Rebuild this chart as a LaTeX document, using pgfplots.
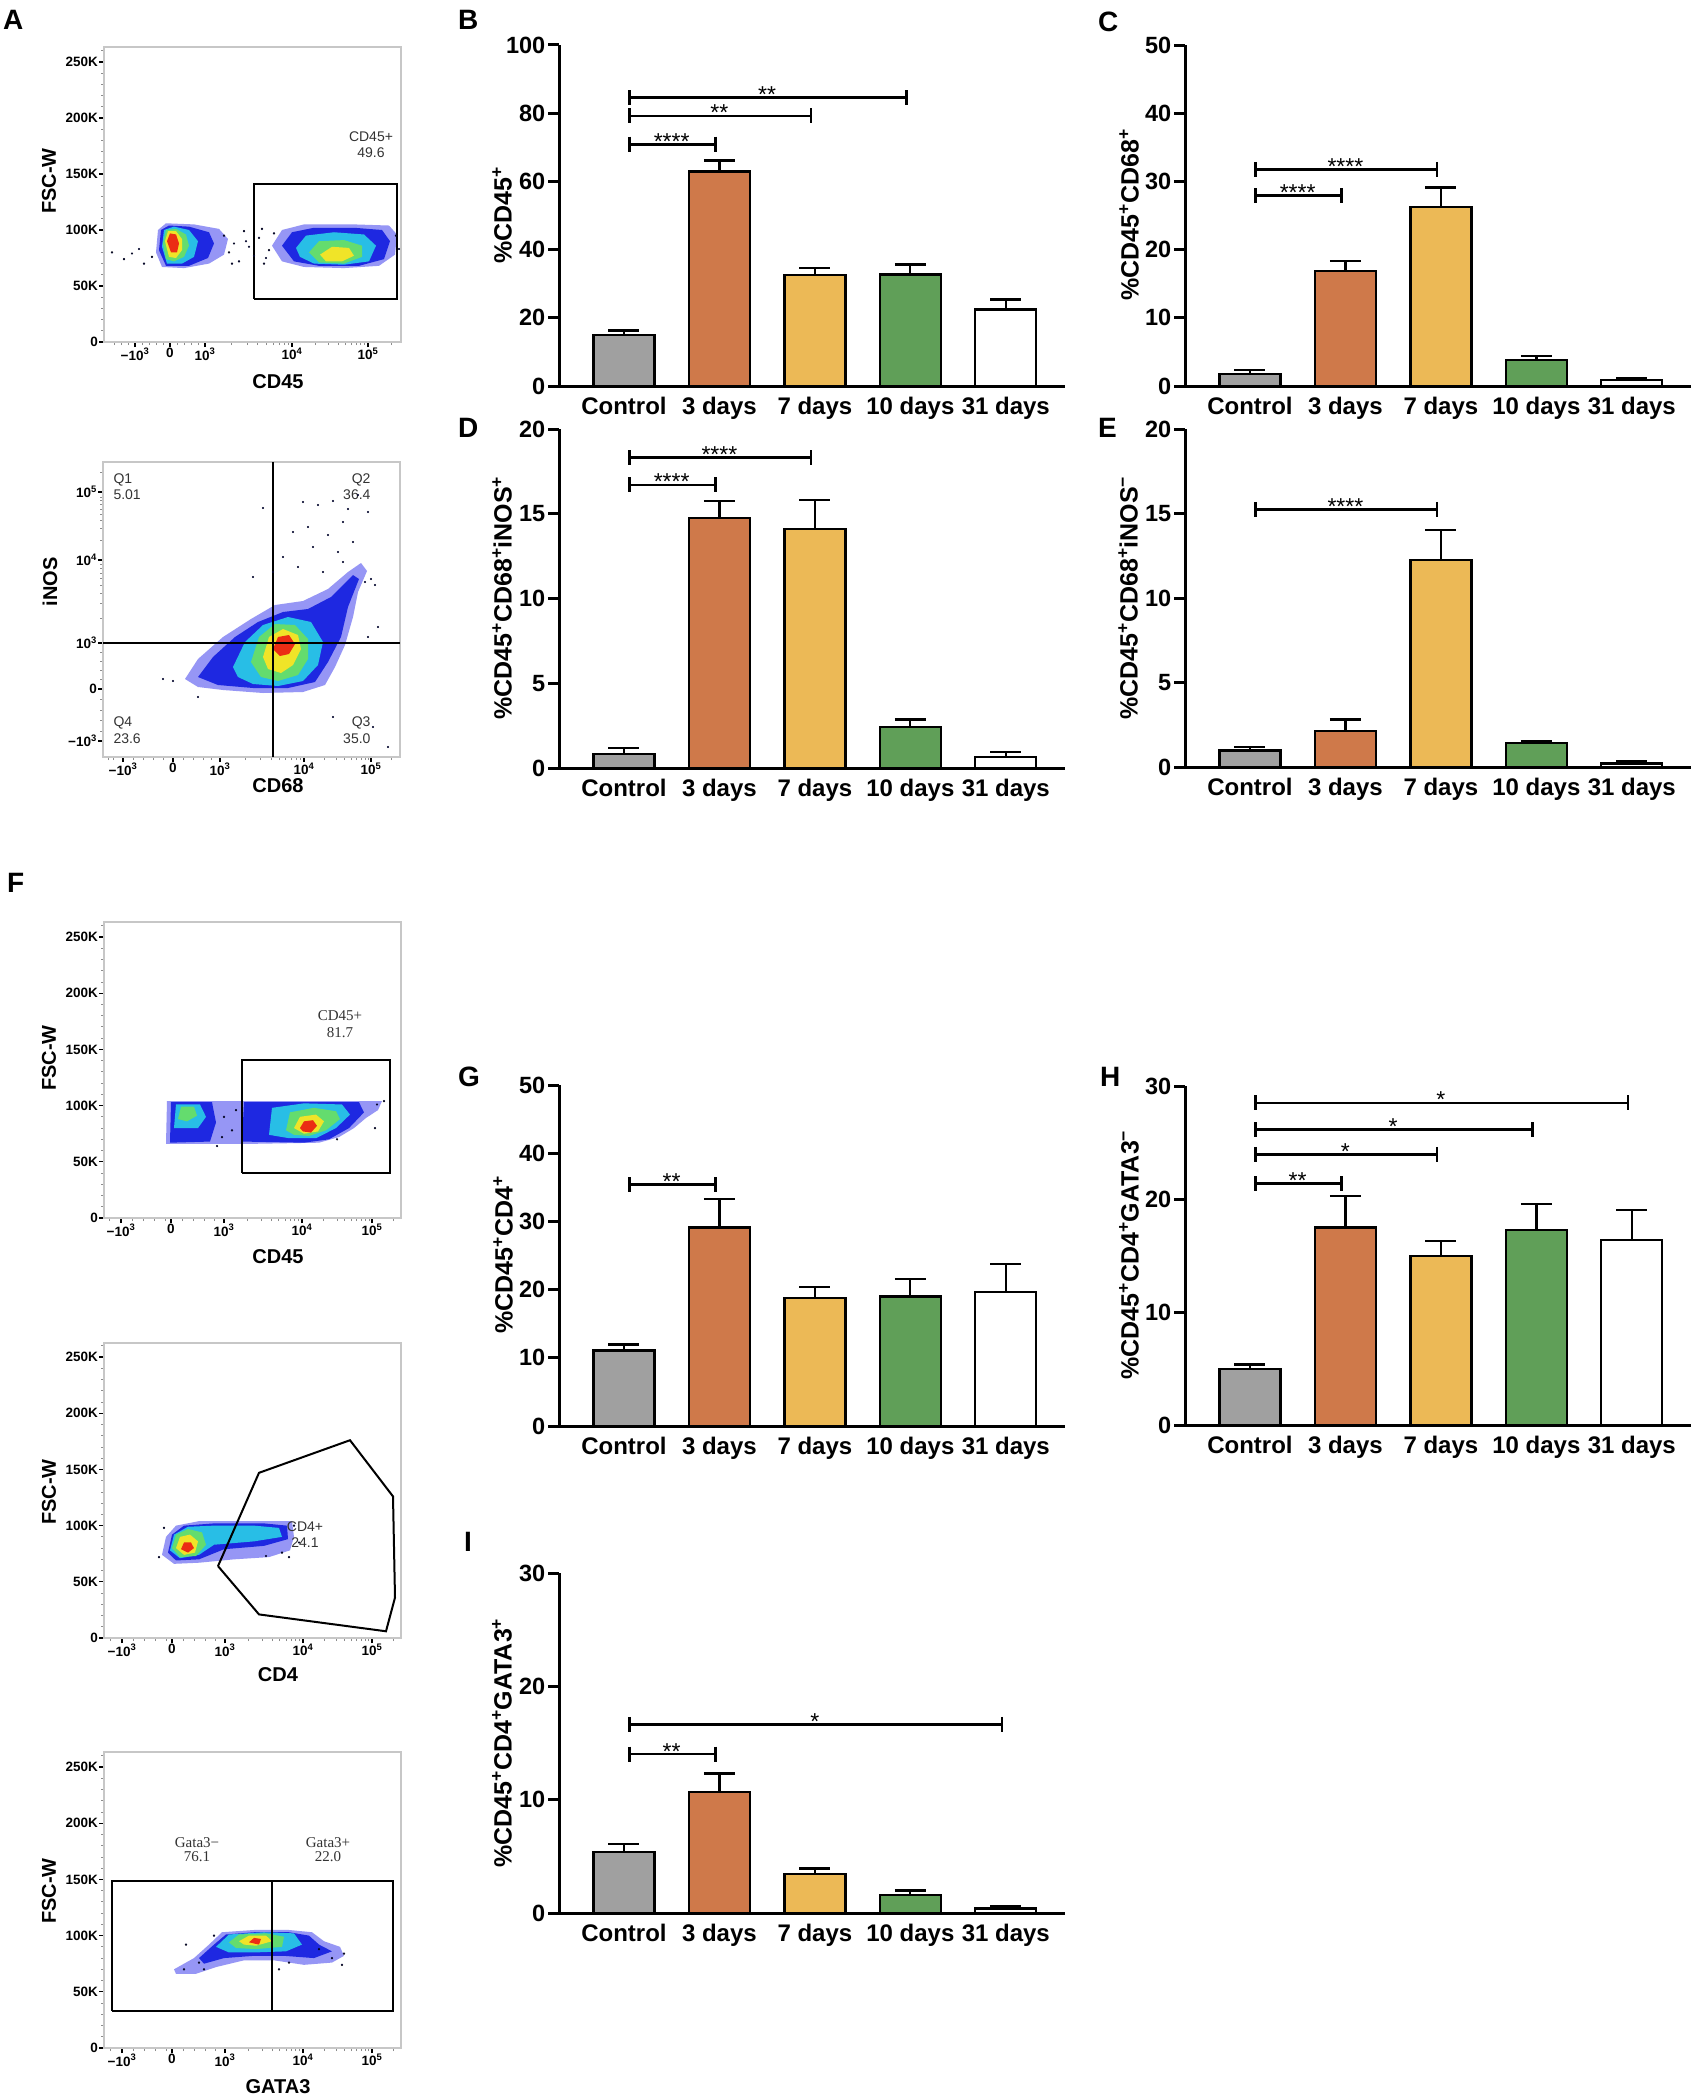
\documentclass[border=0pt]{standalone}
\usepackage{fontspec}
\setmainfont{Liberation Sans}
\newfontfamily\seriffont{Liberation Serif}
\usepackage{pgfplots}
\pgfplotsset{compat=1.18}
\newcommand\tickfont{\bfseries\fontsize{23.5}{26}\selectfont}
\newcommand\catfont{\bfseries\fontsize{24}{28}\selectfont}
\newcommand\ylabfont{\bfseries\fontsize{25}{28}\selectfont}
\newcommand\starfont{\fontsize{23}{26}\selectfont}
\newcommand\letterfont{\bfseries\fontsize{28}{32}\selectfont}
\newcommand\flowtick{\bfseries\fontsize{13.5}{15}\selectfont}
\newcommand\flowlab{\bfseries\fontsize{20}{24}\selectfont}
\newcommand\gatefont{\fontsize{14}{16}\selectfont\color{black!80}}
\newcommand\gateseriffont{\seriffont\fontsize{15}{17}\selectfont\color{black!80}}
\definecolor{cgray}{RGB}{160,160,160}
\definecolor{corange}{RGB}{207,121,74}
\definecolor{cyellow}{RGB}{236,185,86}
\definecolor{cgreen}{RGB}{96,159,88}
\definecolor{fsparse}{RGB}{150,150,245}
\definecolor{fblue}{RGB}{30,40,225}
\definecolor{fcyan}{RGB}{40,190,230}
\definecolor{fgreen}{RGB}{100,220,110}
\definecolor{fyellow}{RGB}{240,228,40}
\definecolor{fred}{RGB}{235,45,20}
\pgfplotsset{
  barax/.style={
    scale only axis, anchor=south west, clip=false,
    axis x line=bottom, axis y line=left,
    axis line style={-, line width=3pt, black},
    x axis line style={-}, y axis line style={-},
    ymin=0, xmin=-0.68, xmax=4.62, width=506pt, bar width=61pt,
    xtick={0,1,2,3,4},
    xticklabels={Control,3 days,7 days,10 days,31 days},
    xtick style={draw=none},
    ytick style={line width=3pt, black},
    tick align=outside,
    major tick length=11pt,
    xticklabel style={font=\catfont, anchor=north, inner sep=0pt},
    yticklabel style={font=\tickfont, inner sep=2.5pt},
    /pgf/number format/assume math mode=true},
  flowax/.style={
    scale only axis, anchor=south west, width=297pt, xmin=0, xmax=297, ymin=0,
    axis line style={draw=black!22, line width=1.3pt},
    tick align=outside, xtick pos=bottom, ytick pos=left,
    major tick length=5pt, minor tick length=3pt,
    major tick style={black, line width=1.2pt},
    minor tick style={black!45, line width=0.8pt},
    ticklabel style={font=\flowtick},
    yticklabel style={inner sep=1pt},
    xticklabel style={inner sep=1pt},
    xticklabels={−10\textsuperscript{3},0,10\textsuperscript{3},10\textsuperscript{4},10\textsuperscript{5}},
    /pgf/number format/assume math mode=true},
  fsc/.style={ytick={0,50,100,150,200,250}, yticklabels={0,50K,100K,150K,200K,250K}, minor ytick={10,20,...,260}}
}
\newcommand\onebar[4]{\addplot[ybar, bar shift=0pt, fill=#1, draw=black, line width=2.3pt, error bars/.cd, y dir=plus, y explicit, error mark=|, error bar style={line width=2.3pt, black}, error mark options={black, line width=2.3pt, mark size=15.5pt}] coordinates {(#2,#3) +- (0,#4)};}
\newcommand\sig[5]{\addplot[sharp plot, black, line width=2.7pt, mark=|, mark size=7.5pt, mark options={solid, line width=2.5pt}] coordinates {(#1+0.06,#4) (#2-0.04,#4)};
\node[font=\starfont, anchor=base, yshift=-5pt] at (axis cs:#3,#4) {#5};}
\newcommand\blob[2]{\addplot[fill=#1, draw=none] coordinates {#2};}
\newcommand\scat[1]{\addplot[only marks, mark=*, mark size=0.9pt, mark options={draw=none, fill=fblue}] coordinates {#1};}
\newcommand\gate[1]{\addplot[black, line width=2pt] coordinates {#1};}
\begin{document}
\begin{tikzpicture}
\useasboundingbox (0pt,0pt) rectangle (1701pt,-2100pt);
\fill[white] (0pt,0pt) rectangle (1701pt,-2100pt);

% ===== A1 =====
\begin{axis}[flowax, fsc, at={(104pt,-342pt)}, height=295pt, ymax=263.4,
  xtick={31,66,101,188,264},
  minor xtick={10,17,24,38,45,52,59,73,80,87,94,127,143,153,162,169,175,180,184,211,224,234,241,247,252,256,260,287}]
\blob{fsparse}{(52,80) (54,100) (62,106) (90,105) (115,101) (124,92) (120,78) (105,70) (80,66) (58,67)}
\blob{fblue}{(55,82) (57,100) (65,104) (85,103) (105,98) (110,88) (104,75) (85,68) (62,68)}
\blob{fcyan}{(58,85) (60,100) (70,103) (85,100) (94,90) (90,76) (78,70) (63,70)}
\blob{fgreen}{(59,88) (62,100) (72,101) (82,96) (85,86) (80,76) (70,72) (62,74)}
\blob{fyellow}{(61,90) (64,99) (72,99) (78,92) (78,82) (72,75) (65,76)}
\blob{fred}{(63,90) (66,97) (72,96) (75,88) (73,80) (67,80)}
\blob{fsparse}{(168,86) (178,100) (200,105) (250,105) (285,104) (293,96) (291,78) (275,68) (240,66) (200,67) (178,72)}
\blob{fblue}{(178,86) (188,98) (210,102) (250,102) (278,100) (286,90) (280,74) (255,68) (215,68) (190,72)}
\blob{fcyan}{(192,84) (202,95) (230,98) (260,96) (272,86) (265,72) (240,69) (210,70) (196,76)}
\blob{fgreen}{(205,80) (215,90) (240,91) (258,86) (258,76) (240,70) (215,71)}
\blob{fyellow}{(216,78) (228,85) (245,84) (250,77) (238,72) (222,72)}
\scat{(120,95) (125,80) (130,88) (135,72) (140,99) (145,85) (150,77) (155,93) (160,70) (165,82) (170,97) (128,70) (142,90) (158,101) (162,75) (8,80) (20,74) (28,79) (35,83) (40,70) (48,76) (292,95) (295,83)}
\gate{(150,38) (293,38) (293,141) (150,141) (150,38)}
\node[font=\gatefont] at (axis cs:267,183) {CD45+};
\node[font=\gatefont] at (axis cs:267,169) {49.6};
\end{axis}

% ===== A2 =====
\begin{axis}[flowax, at={(103pt,-757pt)}, height=295pt, ymax=295,
  xtick={20,70,117,201,268}, ytick={16,68,114,197,265},
  yticklabels={−10\textsuperscript{3},0,10\textsuperscript{3},10\textsuperscript{4},10\textsuperscript{5}},
  minor xtick={5,10,30,40,50,60,80,90,100,108,142,157,168,176,182,188,193,197,221,233,241,248,253,258,262,265,288},
  minor ytick={26,37,47,58,78,87,96,105,139,154,164,172,179,184,189,193,217,229,237,243,248,253,257,260,285}]
\blob{fsparse}{(82,78) (95,98) (120,120) (148,138) (172,152) (200,156) (225,168) (245,185) (258,194) (264,186) (255,165) (250,140) (242,112) (232,90) (222,72) (200,65) (160,64) (120,67) (95,70)}
\blob{fblue}{(95,80) (110,100) (132,120) (155,135) (180,145) (205,148) (228,160) (250,182) (256,178) (245,150) (238,120) (225,95) (212,75) (185,69) (150,69) (115,72)}
\blob{fcyan}{(130,90) (142,115) (160,132) (185,140) (208,135) (220,115) (215,92) (200,76) (175,71) (150,73) (135,80)}
\blob{fgreen}{(148,95) (156,120) (172,133) (192,132) (205,118) (205,98) (195,82) (175,76) (158,80)}
\blob{fyellow}{(160,100) (166,120) (180,128) (195,122) (198,108) (190,92) (178,84) (165,88)}
\blob{fred}{(170,108) (175,120) (186,122) (192,113) (186,103) (177,101)}
\scat{(160,249) (200,255) (215,252) (230,256) (245,248) (255,262) (265,245) (190,225) (205,230) (225,222) (240,235) (180,200) (210,210) (235,205) (250,215) (170,185) (195,190) (220,185) (240,195) (150,180) (230,40) (270,30) (285,10) (60,78) (70,76) (95,60) (262,175) (268,178) (272,172) (265,120) (275,130)}
\gate{(170,0) (170,295)}
\gate{(0,114) (297,114)}
\node[font=\gatefont, anchor=west] at (axis cs:7,277) {Q1};
\node[font=\gatefont, anchor=west] at (axis cs:7,262) {5.01};
\node[font=\gatefont, anchor=east] at (axis cs:271,277) {Q2};
\node[font=\gatefont, anchor=east] at (axis cs:271,262) {36.4};
\node[font=\gatefont, anchor=west] at (axis cs:7,34) {Q4};
\node[font=\gatefont, anchor=west] at (axis cs:7,18) {23.6};
\node[font=\gatefont, anchor=east] at (axis cs:271,34) {Q3};
\node[font=\gatefont, anchor=east] at (axis cs:271,18) {35.0};
\end{axis}

% ===== F1 =====
\begin{axis}[flowax, fsc, at={(104pt,-1218pt)}, height=296pt, ymax=263.3,
  xtick={17,67,120,198,268},
  minor xtick={5,28,39,50,61,78,89,100,110,143.5,157,167,174.5,181,186,190.5,194.5,219,233,240,247,252.5,257,261,265,289}]
\blob{fsparse}{(62,66) (63,104) (278,104) (274,96) (262,89) (250,80) (235,72) (215,67) (150,66)}
\blob{fblue}{(66,67) (67,103) (108,103) (112,85) (106,68)}
\blob{fblue}{(138,68) (140,103) (255,103) (260,94) (245,80) (225,70) (200,67)}
\blob{fcyan}{(70,80) (72,101) (96,101) (102,90) (94,80)}
\blob{fcyan}{(165,74) (168,98) (200,102) (238,101) (246,92) (232,80) (212,71) (185,71)}
\blob{fgreen}{(74,88) (77,99) (90,99) (93,91) (83,86)}
\blob{fgreen}{(182,78) (186,94) (210,98) (232,95) (236,88) (222,78) (205,73) (190,74)}
\blob{fyellow}{(190,80) (196,90) (212,92) (220,86) (214,77) (200,75)}
\blob{fred}{(196,80) (200,86) (209,87) (213,82) (207,76) (199,77)}
\scat{(273,101) (271,80) (233,70) (113,64) (280,104) (120,90) (128,78) (132,96) (118,72)}
\gate{(138,40) (286,40) (286,140.6) (138,140.6) (138,40)}
\node[font=\gateseriffont] at (axis cs:236,180) {CD45+};
\node[font=\gateseriffont] at (axis cs:236,165) {81.7};
\end{axis}

% ===== F2 =====
\begin{axis}[flowax, fsc, at={(104pt,-1638pt)}, height=295pt, ymax=262.5,
  xtick={18,68,121,199,268},
  minor xtick={6,29,40,51,62,79,90,101,111,144.5,158,168,175.5,182,187,191.5,195.5,220,232,240.5,247,252.5,257,261,264.8,289}]
\blob{fsparse}{(58,74) (62,90) (72,100) (95,104) (150,104) (188,104) (190,90) (186,78) (165,72) (130,70) (95,67) (70,66)}
\blob{fblue}{(64,76) (68,92) (80,100) (110,102) (160,102) (183,100) (184,88) (160,82) (120,79) (95,70) (72,69)}
\blob{fcyan}{(66,78) (70,92) (84,99) (110,100) (150,100) (175,98) (178,90) (150,86) (110,83) (95,74) (76,71)}
\blob{fgreen}{(68,80) (72,92) (84,97) (98,94) (102,83) (92,73) (76,72)}
\blob{fyellow}{(72,80) (76,90) (86,92) (94,86) (91,76) (80,74)}
\blob{fred}{(77,79) (80,85) (87,85) (90,80) (84,76)}
\scat{(190,100) (195,85) (185,72) (162,73) (178,76) (55,72) (60,98)}
\gate{(114,64) (155,147) (246,176) (289,126) (291,36) (282,6) (155,21) (114,64)}
\node[font=\gatefont] at (axis cs:201,99) {CD4+};
\node[font=\gatefont] at (axis cs:201,85) {24.1};
\end{axis}

% ===== F3 =====
\begin{axis}[flowax, fsc, at={(104pt,-2048pt)}, height=296pt, ymax=263.3,
  xtick={18,68,121,199,268},
  minor xtick={6,29,40,51,62,79,90,101,111,144.5,158,168,175.5,182,187,191.5,195.5,220,232,240.5,247,252.5,257,261,264.8,289}]
\blob{fsparse}{(70,70) (90,80) (105,92) (118,103) (150,105) (185,105) (208,103) (220,95) (236,90) (240,82) (228,76) (200,74) (170,78) (140,78) (112,72) (92,66) (72,66)}
\blob{fblue}{(95,80) (110,92) (122,101) (150,103) (185,103) (205,100) (215,92) (228,86) (210,80) (180,82) (150,82) (120,80) (100,75)}
\blob{fcyan}{(112,90) (125,101) (160,103) (190,102) (198,92) (182,86) (150,85) (125,85)}
\blob{fgreen}{(125,94) (135,101) (162,102) (180,99) (178,90) (152,88) (132,89)}
\blob{fyellow}{(135,95) (145,100) (162,100) (168,95) (152,91) (140,92)}
\blob{fred}{(145,94) (150,98) (157,97) (155,92)}
\scat{(95,76) (80,70) (100,70) (110,100) (215,88) (228,80) (240,84) (238,74) (185,76) (175,70) (82,92)}
\gate{(8,33) (289,33) (289,148.6) (8,148.6) (8,33)}
\gate{(168,33) (168,148.6)}
\node[font=\gateseriffont] at (axis cs:93,183) {Gata3−};
\node[font=\gateseriffont] at (axis cs:93,170) {76.1};
\node[font=\gateseriffont] at (axis cs:224,183) {Gata3+};
\node[font=\gateseriffont] at (axis cs:224,170) {22.0};
\end{axis}

% ===== B =====
\begin{axis}[barax, at={(559pt,-386pt)}, height=341pt, ymax=100, ytick={0,20,...,100}]
\onebar{cgray}{0}{14.9}{1.4}
\onebar{corange}{1}{62.9}{3.2}
\onebar{cyellow}{2}{32.5}{2.1}
\onebar{cgreen}{3}{32.7}{2.9}
\onebar{white}{4}{22.4}{3.0}
\sig{0}{1}{0.5}{70.9}{****}
\sig{0}{2}{1}{79.2}{**}
\sig{0}{3}{1.5}{84.6}{**}
\end{axis}

% ===== C =====
\begin{axis}[barax, at={(1185pt,-386pt)}, height=341pt, ymax=50, ytick={0,10,...,50}]
\onebar{cgray}{0}{1.8}{0.5}
\onebar{corange}{1}{16.9}{1.4}
\onebar{cyellow}{2}{26.2}{2.9}
\onebar{cgreen}{3}{3.8}{0.65}
\onebar{white}{4}{0.83}{0.37}
\sig{0}{1}{0.5}{27.9}{****}
\sig{0}{2}{1}{31.75}{****}
\end{axis}

% ===== D =====
\begin{axis}[barax, at={(559pt,-768pt)}, height=339pt, ymax=20, ytick={0,5,...,20}]
\onebar{cgray}{0}{0.83}{0.33}
\onebar{corange}{1}{14.77}{0.99}
\onebar{cyellow}{2}{14.09}{1.71}
\onebar{cgreen}{3}{2.42}{0.45}
\onebar{white}{4}{0.65}{0.31}
\sig{0}{1}{0.5}{16.7}{****}
\sig{0}{2}{1}{18.31}{****}
\end{axis}

% ===== E =====
\begin{axis}[barax, at={(1185pt,-767pt)}, height=338pt, ymax=20, ytick={0,5,...,20}]
\onebar{cgray}{0}{0.97}{0.21}
\onebar{corange}{1}{2.11}{0.71}
\onebar{cyellow}{2}{12.24}{1.78}
\onebar{cgreen}{3}{1.40}{0.14}
\onebar{white}{4}{0.2}{0.14}
\sig{0}{2}{1}{15.24}{****}
\end{axis}

% ===== G =====
\begin{axis}[barax, at={(559pt,-1426pt)}, height=341pt, ymax=50, ytick={0,10,...,50}]
\onebar{cgray}{0}{11.06}{0.88}
\onebar{corange}{1}{29.1}{4.17}
\onebar{cyellow}{2}{18.8}{1.6}
\onebar{cgreen}{3}{19.0}{2.6}
\onebar{white}{4}{19.6}{4.2}
\sig{0}{1}{0.5}{35.4}{**}
\end{axis}

% ===== H =====
\begin{axis}[barax, at={(1185pt,-1425pt)}, height=339pt, ymax=30, ytick={0,10,20,30}]
\onebar{cgray}{0}{4.95}{0.41}
\onebar{corange}{1}{17.48}{2.77}
\onebar{cyellow}{2}{14.94}{1.36}
\onebar{cgreen}{3}{17.24}{2.3}
\onebar{white}{4}{16.39}{2.65}
\sig{0}{1}{0.5}{21.37}{**}
\sig{0}{2}{1}{23.96}{*}
\sig{0}{3}{1.5}{26.14}{*}
\sig{0}{4}{2}{28.5}{*}
\end{axis}

% ===== I =====
\begin{axis}[barax, at={(559pt,-1913pt)}, height=340pt, ymax=30, ytick={0,10,20,30}]
\onebar{cgray}{0}{5.41}{0.71}
\onebar{corange}{1}{10.68}{1.64}
\onebar{cyellow}{2}{3.47}{0.47}
\onebar{cgreen}{3}{1.62}{0.38}
\onebar{white}{4}{0.41}{0.18}
\sig{0}{1}{0.5}{14.03}{**}
\sig{0}{4}{2}{16.65}{*}
\end{axis}

% ===== axis titles =====
\node[rotate=90, font=\ylabfont] at (502pt,-215pt) {\%CD45\textsuperscript{+}};
\node[rotate=90, font=\ylabfont] at (1129pt,-215pt) {\%CD45\textsuperscript{+}CD68\textsuperscript{+}};
\node[rotate=90, font=\ylabfont] at (502pt,-598pt) {\%CD45\textsuperscript{+}CD68\textsuperscript{+}iNOS\textsuperscript{+}};
\node[rotate=90, font=\ylabfont] at (1128pt,-598pt) {\%CD45\textsuperscript{+}CD68\textsuperscript{+}iNOS\textsuperscript{−}};
\node[rotate=90, font=\ylabfont] at (503pt,-1255pt) {\%CD45\textsuperscript{+}CD4\textsuperscript{+}};
\node[rotate=90, font=\ylabfont] at (1129pt,-1255pt) {\%CD45\textsuperscript{+}CD4\textsuperscript{+}GATA3\textsuperscript{−}};
\node[rotate=90, font=\ylabfont] at (502pt,-1743pt) {\%CD45\textsuperscript{+}CD4\textsuperscript{+}GATA3\textsuperscript{+}};

\node[rotate=90, font=\flowlab] at (49pt,-181pt) {FSC-W};
\node[font=\flowlab] at (278pt,-382pt) {CD45};
\node[rotate=90, font=\flowlab] at (50pt,-582pt) {iNOS};
\node[font=\flowlab] at (278pt,-786pt) {CD68};
\node[rotate=90, font=\flowlab] at (49pt,-1058pt) {FSC-W};
\node[font=\flowlab] at (278pt,-1257pt) {CD45};
\node[rotate=90, font=\flowlab] at (49pt,-1492pt) {FSC-W};
\node[font=\flowlab] at (278pt,-1675pt) {CD4};
\node[rotate=90, font=\flowlab] at (49pt,-1891pt) {FSC-W};
\node[font=\flowlab] at (278pt,-2087pt) {GATA3};

% ===== panel letters =====
\node[anchor=north west, inner sep=0pt, font=\letterfont] at (3pt,-10pt) {A};
\node[anchor=north west, inner sep=0pt, font=\letterfont] at (458pt,-10pt) {B};
\node[anchor=north west, inner sep=0pt, font=\letterfont] at (1098pt,-12pt) {C};
\node[anchor=north west, inner sep=0pt, font=\letterfont] at (458pt,-418pt) {D};
\node[anchor=north west, inner sep=0pt, font=\letterfont] at (1098pt,-418pt) {E};
\node[anchor=north west, inner sep=0pt, font=\letterfont] at (7pt,-873pt) {F};
\node[anchor=north west, inner sep=0pt, font=\letterfont] at (458pt,-1067pt) {G};
\node[anchor=north west, inner sep=0pt, font=\letterfont] at (1100pt,-1067pt) {H};
\node[anchor=north west, inner sep=0pt, font=\letterfont] at (464pt,-1532pt) {I};
\end{tikzpicture}
\end{document}
